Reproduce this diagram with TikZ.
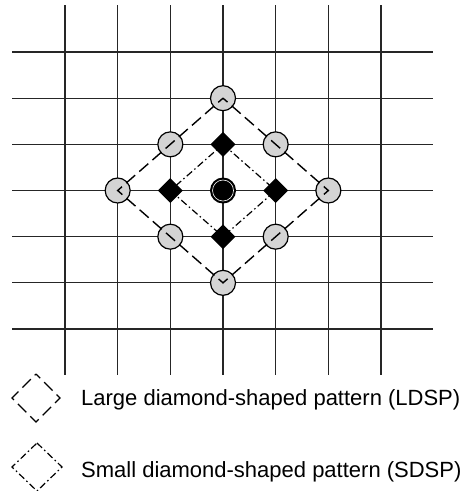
\documentclass[tikz,border=0pt]{standalone}
\usepackage{fontspec}
\setmainfont{Liberation Sans}
\usetikzlibrary{shapes.geometric}

\tikzset{
  gridline/.style={line width=1.1pt,black!85},
  ldsp/.style={circle,draw=black,line width=1.2pt,fill=black!17,minimum size=25pt,inner sep=0pt},
  sdsp/.style={diamond,fill=black,minimum size=25pt,inner sep=0pt},
  ctr/.style={circle,fill=black,minimum size=26pt,inner sep=0pt},
  largepath/.style={line width=1.4pt,dash pattern=on 12pt off 5.5pt,dash phase=6pt},
  smallpath/.style={line width=1.2pt,dash pattern=on 7pt off 3pt on 1.5pt off 3pt},
  legend/.style={anchor=base west,inner sep=0pt,font=\fontsize{22}{26}\selectfont}
}

\begin{document}
\begin{tikzpicture}[x=1pt,y=-1pt]
  \useasboundingbox (0,0) rectangle (467,491);
  \def\gx{52.67}
  \def\gy{46.17}
  % grid
  \foreach \i in {0,...,6}{
    \draw[gridline] ({65+\gx*\i},5) -- ({65+\gx*\i},375);
    \draw[gridline] (12,{52+\gy*\i}) -- (433,{52+\gy*\i});
  }
  % large diamond points
  \node[ldsp] (l1) at ({65+3*\gx},{52+1*\gy}) {};
  \node[ldsp] (l2) at ({65+4*\gx},{52+2*\gy}) {};
  \node[ldsp] (l3) at ({65+5*\gx},{52+3*\gy}) {};
  \node[ldsp] (l4) at ({65+4*\gx},{52+4*\gy}) {};
  \node[ldsp] (l5) at ({65+3*\gx},{52+5*\gy}) {};
  \node[ldsp] (l6) at ({65+2*\gx},{52+4*\gy}) {};
  \node[ldsp] (l7) at ({65+1*\gx},{52+3*\gy}) {};
  \node[ldsp] (l8) at ({65+2*\gx},{52+2*\gy}) {};
  % small diamond points
  \node[sdsp] (s1) at ({65+3*\gx},{52+2*\gy}) {};
  \node[sdsp] (s2) at ({65+4*\gx},{52+3*\gy}) {};
  \node[sdsp] (s3) at ({65+3*\gx},{52+4*\gy}) {};
  \node[sdsp] (s4) at ({65+2*\gx},{52+3*\gy}) {};
  \node[ctr] (c) at ({65+3*\gx},{52+3*\gy}) {};
  \draw[white,line width=0.6pt] (c.center) circle (10.5pt);
  % patterns
  \draw[largepath] (l1.center) -- (l3.center) -- (l5.center) -- (l7.center) -- cycle;
  \draw[smallpath] (s1.center) -- (s2.center) -- (s3.center) -- (s4.center) -- cycle;
  % legend
  \draw[largepath] (36,374) -- (60,398) -- (36,422) -- (12,398) -- cycle;
  \draw[smallpath] (37,443) -- (62,467) -- (37,491) -- (12,467) -- cycle;
  \node[legend] (tl) at (81,405.5) {Large diamond-shaped pattern (LDSP)};
  \node[legend] (ts) at (81,477.5) {Small diamond-shaped pattern (SDSP)};
\end{tikzpicture}
\end{document}
